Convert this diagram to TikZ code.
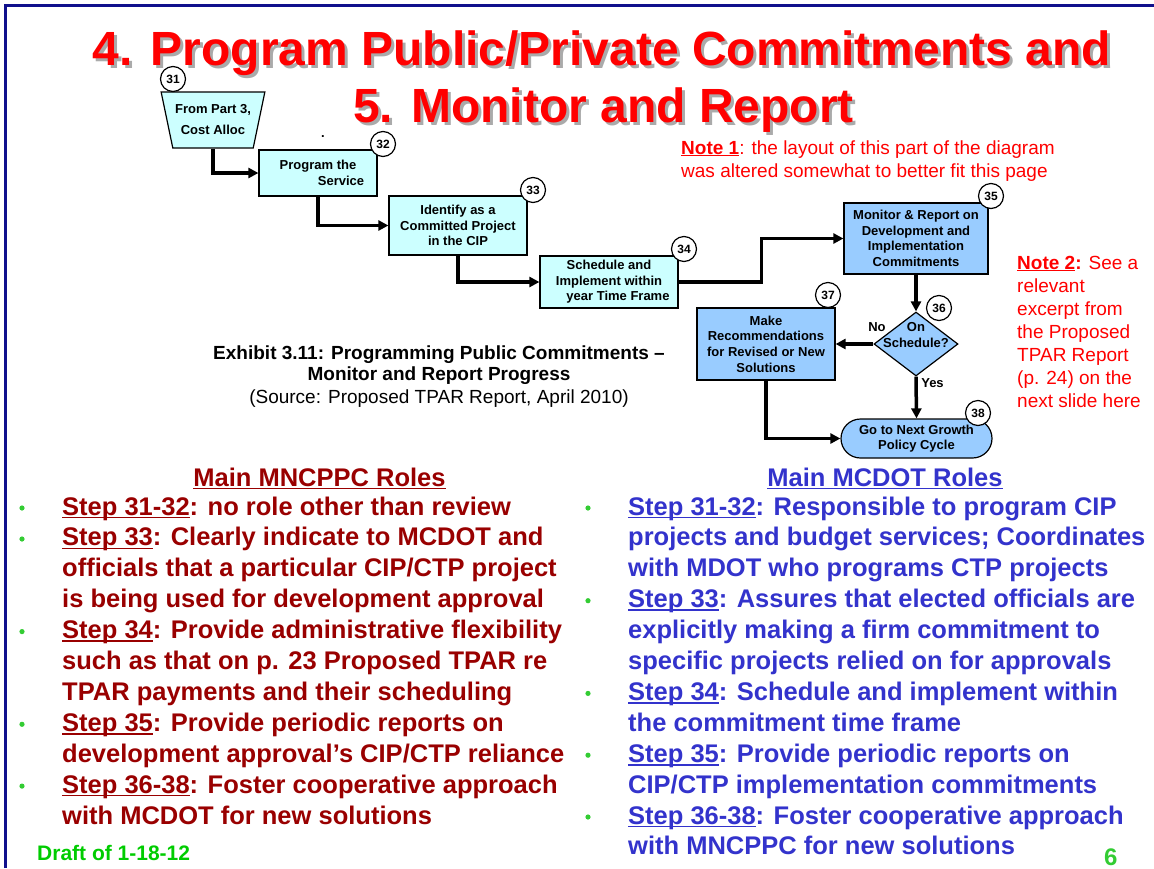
\documentclass[tikz,border=0pt]{standalone}
\usepackage{fontspec}
\setmainfont{Liberation Sans}
\usetikzlibrary{shapes.geometric,shapes.misc,arrows.meta}
\definecolor{framenavy}{RGB}{16,16,140}
\definecolor{titlered}{RGB}{255,0,0}
\definecolor{shadowgray}{RGB}{170,170,170}
\definecolor{palecyan}{RGB}{204,255,255}
\definecolor{paleblue}{RGB}{153,204,255}
\definecolor{rolered}{RGB}{153,0,0}
\definecolor{roleblue}{RGB}{51,51,204}
\definecolor{bulletgreen}{RGB}{51,204,51}
\definecolor{draftgreen}{RGB}{0,204,0}
\newcommand{\undl}[1]{\leavevmode\setbox0=\hbox{#1}\rlap{\rule[-0.13em]{\wd0}{0.065em}}\box0}

\begin{document}
\begin{tikzpicture}[x=1pt,y=-1pt,
        stepbox/.style={draw=black,line width=1.2pt,inner sep=0pt,align=center,
            font=\fontsize{13}{15.6}\selectfont\bfseries},
        stepnum/.style={circle,draw=black,line width=1.2pt,fill=white,minimum size=25pt,
            inner sep=0pt,font=\fontsize{12}{12}\selectfont\bfseries},
        flow/.style={line width=3.5pt,-{Triangle[length=10pt,width=10pt]}},
        flowlabel/.style={inner sep=0pt,font=\fontsize{13}{13}\selectfont\bfseries},
        titletext/.style={anchor=base,inner sep=0pt,font=\fontsize{48}{56}\selectfont\bfseries},
        notetext/.style={text=titlered,anchor=base west,align=left,inner sep=0pt,
            font=\fontsize{19}{23}\selectfont},
        roletext/.style={anchor=base west,align=left,inner sep=0pt,
            font=\fontsize{25.5}{30.9}\selectfont\bfseries},
        rolehead/.style={anchor=base,inner sep=0pt,font=\fontsize{25.5}{30.9}\selectfont\bfseries}]

        \useasboundingbox (0,0) rectangle (1154,868);
        \draw [framenavy,line width=3pt] (5.5,868) -- (5.5,5.5) -- (1154,5.5);

        % title with its shadow
        \node [titletext,text=shadowgray] (title1s) at (605,68) {4. Program Public/Private Commitments and};
        \node [titletext,text=titlered] (title1) at (602,65) {4. Program Public/Private Commitments and};
        \node [titletext,text=shadowgray] (title2s) at (606.5,125) {5. Monitor and Report};
        \node [titletext,text=titlered] (title2) at (603.5,122) {5. Monitor and Report};

        % flow chart, steps 31 to 38
        \node [stepbox,trapezium,trapezium angle=70,shape border rotate=180,trapezium stretches=true,
            minimum width=104pt,minimum height=56pt,fill=palecyan] (n31) at (213,120) {From Part 3,\\[5.4pt]Cost Alloc};
        \node [font=\fontsize{13}{13}\selectfont\bfseries,inner sep=0pt] (dot) at (323,137) {.};
        \node [stepbox,fill=palecyan,minimum width=118pt,minimum height=46pt] (n32) at (318,173) {Program the\\\hspace*{46pt}Service};
        \node [stepbox,fill=palecyan,minimum width=138pt,minimum height=59pt] (n33) at (458,225.5) {Identify as a\\Committed Project\\in the CIP};
        \node [stepbox,fill=palecyan,minimum width=138pt,minimum height=52pt] (n34) at (609,282) {Schedule and\\Implement within\\\hspace*{18pt}year Time Frame};
        \node [stepbox,fill=paleblue,minimum width=144pt,minimum height=71pt] (n35) at (916,238.5) {Monitor \& Report on\\Development and\\Implementation\\Commitments};
        \node [stepbox,diamond,fill=paleblue,minimum width=84pt,minimum height=64pt] (n36) at (916,344) {};
        \node [stepbox,draw=none] (n36t) at (916,335) {On\\Schedule?};
        \node [stepbox,fill=paleblue,minimum width=138pt,minimum height=72pt] (n37) at (766,344) {Make\\Recommendations\\for Revised or New\\Solutions};
        \node [stepbox,rounded rectangle,fill=paleblue,minimum width=151pt,minimum height=39pt] (n38) at (916.5,438.5) {Go to Next Growth\\Policy Cycle};

        \draw [flow] (n31.south) |- (n32.west);
        \draw [flow] (n32.south) |- (n33.west);
        \draw [flow] (n33.south) |- (n34.west);
        \draw [flow] (n34.east) -- ++(83,0) |- (n35.west);
        \draw [flow] (n35.south) -- (n36.north);
        \draw [flow] (n36.west) -- (n37.east);
        \draw [flow] (n36.south) -- (n38.north);
        \draw [flow] (n37.south) |- (n38.west);
        \node [flowlabel] (no) at (877,327) {No};
        \node [flowlabel] (yes) at (932.5,383) {Yes};

        \node [stepnum] (s31) at (173,79) {31};
        \node [stepnum] (s32) at (383,144) {32};
        \node [stepnum] (s33) at (533,190) {33};
        \node [stepnum] (s34) at (684,249) {34};
        \node [stepnum] (s35) at (991,196) {35};
        \node [stepnum] (s36) at (939,308) {36};
        \node [stepnum] (s37) at (828,295) {37};
        \node [stepnum] (s38) at (978,413) {38};

        % caption and notes (base = last line)
        \node [anchor=base,align=center,inner sep=0pt,font=\fontsize{19}{21}\selectfont] (caption) at (439,403.5)
            {\textbf{Exhibit 3.11: Programming Public Commitments –}\\\textbf{Monitor and Report Progress}\\[2.5pt](Source: Proposed TPAR Report, April 2010)};
        \node [notetext] (note1) at (681,177) {\textbf{\undl{Note 1}}: the layout of this part of the diagram\\was altered somewhat to better fit this page};
        \node [notetext] (note2) at (1017,407) {\textbf{\undl{Note 2}:} See a\\relevant\\excerpt from\\the Proposed\\TPAR Report\\(p. 24) on the\\next slide here};

        % roles
        \node [rolehead,text=rolered] (headleft) at (319.5,486) {\undl{Main MNCPPC Roles}};
        \node [rolehead,text=roleblue] (headright) at (885,486) {\undl{Main MCDOT Roles}};
        \node [roletext,text=rolered] (rolesleft) at (62,824) {\undl{Step 31-32}: no role other than review\\
            \undl{Step 33}: Clearly indicate to MCDOT and\\
            officials that a particular CIP/CTP project\\
            is being used for development approval\\
            \undl{Step 34}: Provide administrative flexibility\\
            such as that on p. 23 Proposed TPAR re\\
            TPAR payments and their scheduling\\
            \undl{Step 35}: Provide periodic reports on\\
            development approval’s CIP/CTP reliance\\
            \undl{Step 36-38}: Foster cooperative approach\\
            with MCDOT for new solutions};
        \node [roletext,text=roleblue] (rolesright) at (628,854.9) {\undl{Step 31-32}: Responsible to program CIP\\
            projects and budget services; Coordinates\\
            with MDOT who programs CTP projects\\
            \undl{Step 33}: Assures that elected officials are\\
            explicitly making a firm commitment to\\
            specific projects relied on for approvals\\
            \undl{Step 34}: Schedule and implement within\\
            the commitment time frame\\
            \undl{Step 35}: Provide periodic reports on\\
            CIP/CTP implementation commitments\\
            \undl{Step 36-38}: Foster cooperative approach\\
            with MNCPPC for new solutions};

        \fill [bulletgreen] (22,508) circle (2.6);
        \fill [bulletgreen] (22,539) circle (2.6);
        \fill [bulletgreen] (22,631.6) circle (2.6);
        \fill [bulletgreen] (22,724.3) circle (2.6);
        \fill [bulletgreen] (22,786.1) circle (2.6);
        \fill [bulletgreen] (588,508) circle (2.6);
        \fill [bulletgreen] (588,600.7) circle (2.6);
        \fill [bulletgreen] (588,693.4) circle (2.6);
        \fill [bulletgreen] (588,755.2) circle (2.6);
        \fill [bulletgreen] (588,817) circle (2.6);

        \node [anchor=base west,inner sep=0pt,text=draftgreen,font=\fontsize{21}{21}\selectfont\bfseries] (draft) at (37,860) {Draft of 1-18-12};
        \node [anchor=base west,inner sep=0pt,text=bulletgreen,font=\fontsize{24}{24}\selectfont\bfseries] (pagenum) at (1104,865) {6};
    \end{tikzpicture}
\end{document}
